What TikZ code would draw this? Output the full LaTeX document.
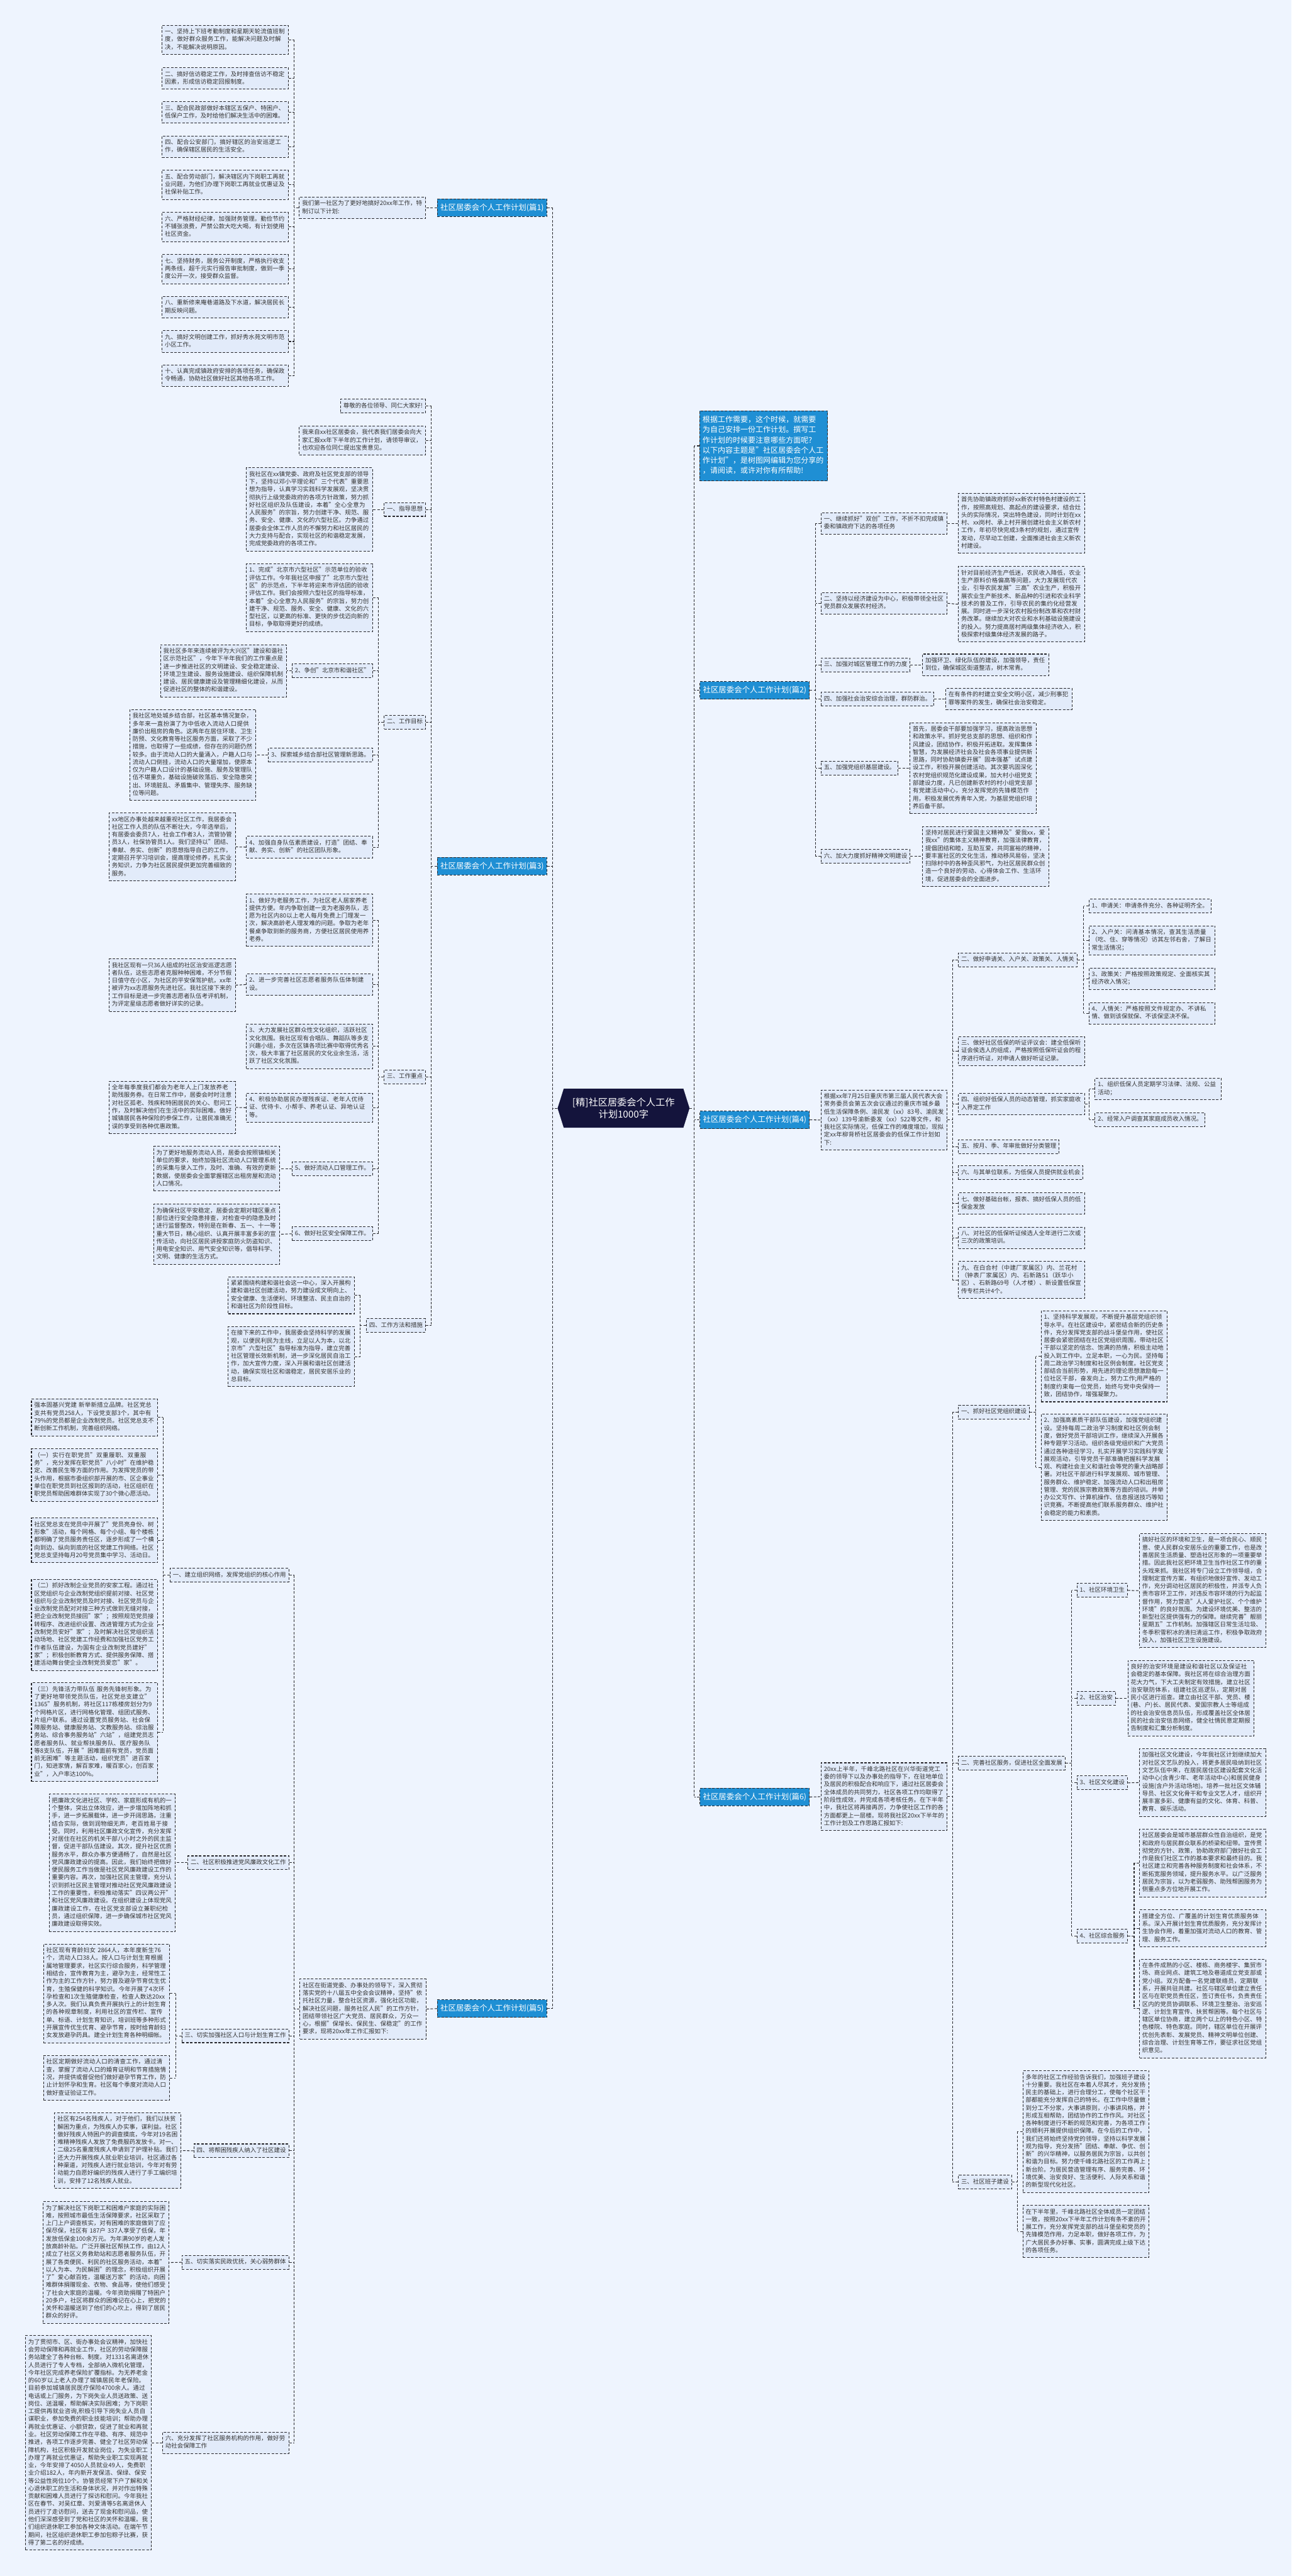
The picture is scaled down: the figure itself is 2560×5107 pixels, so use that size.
\documentclass[tikz,border=0pt]{standalone}
\usepackage{fontspec}
\setmainfont{Noto Sans CJK SC}
\usetikzlibrary{shapes.symbols}
\XeTeXlinebreaklocale "zh"
\XeTeXlinebreakskip=0pt plus 1pt
\definecolor{bgc}{RGB}{238,244,254}
\definecolor{leafc}{RGB}{226,235,250}
\definecolor{linec}{RGB}{40,40,45}
\definecolor{txtc}{RGB}{51,51,51}
\definecolor{bluec}{RGB}{31,143,212}
\definecolor{navyc}{RGB}{20,20,60}
\tikzset{
 dsh/.style={line width=1.3pt, dash pattern=on 5pt off 3pt},
 conn/.style={dsh, draw=linec},
 leaf/.style={dsh, draw=linec, fill=leafc, text=txtc, font=\fontsize{11.8pt}{15.3pt}\selectfont, align=left, inner xsep=5.5pt, inner ysep=6pt, execute at begin node=\strut, execute at end node=\strut},
 lb/.style={leaf, text width=239pt},
 title/.style={dsh, draw=linec, fill=bluec, text=white, font=\fontsize{15.5pt}{18pt}\selectfont, minimum width=217pt, minimum height=35pt, inner sep=3pt},
 introbox/.style={dsh, draw=linec, fill=bluec, text=white, font=\fontsize{15pt}{20.3pt}\selectfont, align=left, text width=242pt, inner xsep=6pt, inner ysep=8.5pt, execute at begin node=\strut, execute at end node=\strut},
 centre/.style={shape=signal, signal to=west and east, signal pointer angle=145, fill=navyc, draw=navyc, text=white, font=\fontsize{19pt}{24pt}\selectfont, align=center, minimum width=261pt, minimum height=77pt, inner sep=2pt}
}
\newcommand\fanL[5]{%
 \coordinate (T) at (#2,0);
 \draw[conn] (#1.west) -- (#1.west -| T);
 \draw[conn] (T |- #3.east) -- (T |- #4.east);
 \foreach \nn in {#5} {\draw[conn] (\nn.east) -- (\nn.east -| T);}
}
\newcommand\fanR[5]{%
 \coordinate (T) at (#2,0);
 \draw[conn] (#1.east) -- (#1.east -| T);
 \draw[conn] (T |- #3.west) -- (T |- #4.west);
 \foreach \nn in {#5} {\draw[conn] (\nn.west) -- (\nn.west -| T);}
}
\begin{document}
\begin{tikzpicture}[x=1pt,y=-1pt]
\fill[bgc] (0,0) rectangle (2560,5107);
\useasboundingbox (0,0) rectangle (2560,5107);

% centre
\node[centre] (C) at (1236,2197) {[精]社区居委会个人工作\\计划1000字};

% ================= 篇1 =================
\node[title] (P1) at (975.5,412) {社区居委会个人工作计划(篇1)};
\node[lb, anchor=east] (a0) at (844,412) {我们第一社区为了更好地搞好20xx年工作，特制订以下计划:};
\node[lb, anchor=east] (a1) at (572,79) {一、坚持上下班考勤制度和星期天轮流值班制度，做好群众服务工作，能解决问题及时解决，不能解决说明原因。};
\node[lb, anchor=east] (a2) at (572,155.5) {二、搞好信访稳定工作，及时排查信访不稳定因素，形成信访稳定回报制度。};
\node[lb, anchor=east] (a3) at (572,223) {三、配合民政部做好本辖区五保户、特困户、低保户工作，及时给他们解决生活中的困难。};
\node[lb, anchor=east] (a4) at (572,291) {四、配合公安部门，搞好辖区的治安巡逻工作，确保辖区居民的生活安全。};
\node[lb, anchor=east] (a5) at (572,366.5) {五、配合劳动部门，解决辖区内下岗职工再就业问题，为他们办理下岗职工再就业优惠证及社保补贴工作。};
\node[lb, anchor=east] (a6) at (572,450) {六、严格财经纪律，加强财务管理。勤俭节约不铺张浪费，严禁公款大吃大喝，有计划使用社区资金。};
\node[lb, anchor=east] (a7) at (572,533.5) {七、坚持财务，居务公开制度，严格执行收支两条线，超千元实行报告审批制度，做到一季度公开一次，接受群众监督。};
\node[lb, anchor=east] (a8) at (572,609) {八、重新修来庵巷道路及下水道，解决居民长期反映问题。};
\node[lb, anchor=east] (a9) at (572,677) {九、搞好文明创建工作，抓好秀水苑文明市范小区工作。};
\node[lb, anchor=east] (a10) at (572,744.5) {十、认真完成镇政府安排的各项任务，确保政令畅通，协助社区做好社区其他各项工作。};

% ================= 篇3 =================
\node[title] (P3) at (975.5,1717) {社区居委会个人工作计划(篇3)};
\node[leaf, anchor=east] (b0a) at (844,805) {尊敬的各位领导、同仁大家好!};
\node[lb, anchor=east] (b0b) at (844,873.5) {我来自xx社区居委会，我代表我们居委会向大家汇报xx年下半年的工作计划，请领导审议，也欢迎各位同仁提出宝贵意见。};
\node[leaf, anchor=east] (b1) at (844,1010) {一、指导思想};
\node[lb, anchor=east] (b1c) at (739,1010) {我社区在xx镇党委、政府及社区党支部的领导下，坚持以邓小平理论和"三个代表"重要思想为指导，认真学习实践科学发展观，坚决贯彻执行上级党委政府的各项方针政策，努力抓好社区组织及队伍建设，本着"全心全意为人民服务"的宗旨，努力创建干净、规范、服务、安全、健康、文化的六型社区。力争通过居委会全体工作人员的不懈努力和社区居民的大力支持与配合，实现社区的和谐稳定发展，完成党委政府的各项工作。};
\node[leaf, anchor=east] (b2) at (844,1432) {二、工作目标};
\node[lb, anchor=east] (b2a) at (739,1185) {1、完成"北京市六型社区"示范单位的验收评估工作。今年我社区申报了"北京市六型社区"的示范点，下半年将迎来市评估团的验收评估工作。我们会按照六型社区的指导标准，本着"全心全意为人民服务"的宗旨，努力创建干净、规范、服务、安全、健康、文化的六型社区，以更高的标准、更快的步伐迈向新的目标，争取取得更好的成绩。};
\node[leaf, anchor=east] (b2b) at (739,1330) {2、争创"北京市和谐社区"};
\node[lb, anchor=east] (b2bc) at (569,1330) {我社区多年来连续被评为大兴区"建设和谐社区示范社区"，今年下半年我们的工作重点是进一步推进社区的文明建设、安全稳定建设、环境卫生建设、服务设施建设、组织保障机制建设、居民健康建设及管理精细化建设，从而促进社区的整体的和谐建设。};
\node[leaf, anchor=east] (b2c) at (739,1497) {3、探索城乡结合部社区管理新思路。};
\node[lb, anchor=east] (b2cc) at (508,1497) {我社区地处城乡结合部，社区基本情况复杂，多年来一直扮演了为中低收入流动人口提供廉价出租房的角色。这两年在居住环境、卫生防预、文化教育等社区服务方面，采取了不少措施，也取得了一些成绩，但存在的问题仍然较多。由于流动人口的大量涌入，户籍人口与流动人口倒挂，流动人口的大量增加，使原本仅为户籍人口设计的基础设施、服务及管理队伍不堪重负，基础设施破败落后、安全隐患突出、环境脏乱、矛盾集中、管理失序、服务缺位等问题。};
\node[lb, anchor=east] (b2d) at (739,1679.5) {4、加强自身队伍素质建设，打造"团结、奉献、务实、创新"的社区团队形象。};
\node[lb, anchor=east] (b2dc) at (467,1679) {xx地区办事处越来越重视社区工作，我居委会社区工作人员的队伍不断壮大，今年选举后，有居委会委员7人，社会工作者3人，流管协管员3人，社保协管员1人。我们坚持以"团结、奉献、务实、创新"的思想指导自己的工作，定期召开学习培训会，提高理论修养，扎实业务知识，力争为社区居民提供更加完善细致的服务。};
\node[leaf, anchor=east] (b3) at (844,2135) {三、工作重点};
\node[lb, anchor=east] (b3a) at (739,1824.5) {1、做好为老服务工作，为社区老人居家养老提供方便。年内争取创建一支为老服务队，志愿为社区内80以上老人每月免费上门理发一次，解决高龄老人理发难的问题。争取为老年餐桌争取到新的服务商，方便社区居民使用养老券。};
\node[lb, anchor=east] (b3b) at (739,1952) {2、进一步完善社区志愿者服务队伍体制建设。};
\node[lb, anchor=east] (b3bc) at (467,1953) {我社区现有一只36人组成的社区治安巡逻志愿者队伍，这些志愿者克服种种困难，不分节假日值守在小区，为社区的平安保驾护航，xx年被评为xx志愿服务先进社区。我社区接下来的工作目标是进一步完善志愿者队伍考评机制，为评定星级志愿者做好详实的记录。};
\node[lb, anchor=east] (b3c) at (739,2074.5) {3、大力发展社区群众性文化组织，活跃社区文化氛围。我社区现有合唱队、舞蹈队等多支兴趣小组，多次在区镇各项比赛中取得优秀名次，极大丰富了社区居民的文化业余生活，活跃了社区文化氛围。};
\node[lb, anchor=east] (b3d) at (739,2196) {4、积极协助居民办理残疾证、老年人优待证、优待卡、小帮手、养老认证、异地认证等。};
\node[lb, anchor=east] (b3dc) at (467,2195.5) {全年每季度我们都会为老年人上门发放养老助残服务券。在日常工作中，居委会时时注意对社区孤老、残疾和特困居民的关心、慰问工作，及时解决他们在生活中的实际困难。做好城镇居民各种保险的参保工作，让居民准确无误的享受到各种优惠政策。};
\node[leaf, anchor=east] (b3e) at (739,2317) {5、做好流动人口管理工作。};
\node[lb, anchor=east] (b3ec) at (555,2317) {为了更好地服务流动人员，居委会按照镇相关单位的要求，始终加强社区流动人口管理系统的采集与录入工作，及时、准确、有效的更新数据，使居委会全面掌握辖区出租房屋和流动人口情况。};
\node[leaf, anchor=east] (b3f) at (739,2446) {6、做好社区安全保障工作。};
\node[lb, anchor=east] (b3fc) at (555,2447) {为确保社区平安稳定，居委会定期对辖区重点部位进行安全隐患排查，对检查中的隐患及时进行监督整改，特别是在新春、五一、十一等重大节日，精心组织、认真开展丰富多彩的宣传活动，向社区居民讲授家庭防火防盗知识、用电安全知识、用气安全知识等，倡导科学、文明、健康的生活方式。};
\node[leaf, anchor=east] (b4) at (844,2628) {四、工作方法和措施};
\node[lb, anchor=east] (b4a) at (703,2568) {紧紧围绕构建和谐社会这一中心，深入开展构建和谐社区创建活动，努力建设成文明向上、安全健康、生活便利、环境整洁、民主自治的和谐社区为阶段性目标。};
\node[lb, anchor=east] (b4b) at (703,2689.5) {在接下来的工作中，我居委会坚持科学的发展观，以便民利民为主线，立足以人为本，以北京市"六型社区"指导标准为指导，建立完善社区管理长效新机制，进一步深化居民自治工作，加大宣传力度，深入开展和谐社区创建活动，确保实现社区和谐稳定，居民安居乐业的总目标。};

% ================= 篇5 =================
\node[title] (P5) at (975.5,3982) {社区居委会个人工作计划(篇5)};
\node[lb, anchor=east] (c0) at (845,3983) {社区在街道党委、办事处的领导下，深入贯彻落实党的十八届五中全会会议精神，坚持"依托社区力量，整合社区资源，强化社区功能，解决社区问题，服务社区人民"的工作方针，团结带领社区广大党员、居民群众，万众一心，根据"保增长、保民生、保稳定"的工作要求，现将20xx年工作汇报如下:};
\node[leaf, anchor=east] (c1) at (573,3123) {一、建立组织网络，发挥党组织的核心作用};
\node[lb, anchor=east] (c1a) at (313,2810) {强本固基兴党建 新举新措立品牌。社区党总支共有党员258人，下设党支部3个，其中有79\%的党员都是企业改制党员。社区党总支不断创新工作机制，完善组织网络。};
\node[lb, anchor=east] (c1b) at (313,2924.5) {（一）实行在职党员"双重履职、双重服务"，充分发挥在职党员"八小时"在维护稳定、改善民生等方面的作用。为发挥党员的带头作用，根据市委组织部开展的市、区企事业单位在职党员到社区报到的活动，社区组织在职党员帮助困难群体实现了30个微心愿活动。};
\node[lb, anchor=east] (c1c) at (313,3054) {社区党总支在党员中开展了"党员亮身份、树形象"活动，每个网格、每个小组、每个楼栋都明确了党员服务责任区，逐步形成了一个横向到边、纵向到底的社区党建工作网络。社区党总支坚持每月20号党员集中学习、活动日。};
\node[lb, anchor=east] (c1d) at (313,3221.5) {（二）抓好改制企业党员的安家工程。通过社区党组织与企业改制党组织提前对接、社区党组织与企业改制党员及时对接、社区党员与企业改制党员配对对接三种方式做到无缝对接，把企业改制党员接回"家"；按照规范党员接转程序、改进组织设置、改进管理方式为企业改制党员安好"家"；及时解决社区党组织活动场地、社区党建工作经费和加强社区党务工作者队伍建设，为国有企业改制党员建好"家"；积极创新教育方式、提供服务保障、搭建活动舞台使企业改制党员爱恋"家"。};
\node[lb, anchor=east] (c1e) at (313,3434) {（三）先锋活力带队伍 服务先锋树形象。为了更好地带领党员队伍，社区党总支建立"1365"服务机制，将社区117栋楼房划分为9个网格片区，进行网格化管理、组团式服务、片组户联系。通过设置党员服务站、社会保障服务站、健康服务站、文教服务站、综治服务站、综合事务服务站"六站"，组建党员志愿者服务队、就业帮扶服务队、医疗服务队等8支队伍，开展 "困难面前有党员，党员面前无困难"等主题活动，组织党员"进百家门，知进家情，解百家难，暖百家心，创百家业"，入户率达100\%。};
\node[leaf, anchor=east] (c2) at (573,3693) {二、社区积极推进党风廉政文化工作};
\node[lb, anchor=east] (c2c) at (348,3693) {把廉政文化进社区、学校、家庭形成有机的一个整体，突出立体效应，进一步增加阵地和抓手，进一步拓展载体，进一步开阔思路，注重结合实际，做到润物细无声，老百姓易于接受。同时，利用社区廉政文化宣传，充分发挥对居住在社区的机关干部八小时之外的民主监督，促进干部队伍建设。其次，提升社区优质服务水平，群众办事方便通畅了，自然是社区党风廉政建设的提高。因此，我们始终把做好便民服务工作当做是社区党风廉政建设工作的重要内容。再次，加强社区民主管理，充分认识到抓社区民主管理对推动社区党风廉政建设工作的重要性，积极推动落实"四议两公开"和社区党风廉政建设。在组织建设上体现党风廉政建设工作，在社区党支部设立兼职纪检员，通过组织保障，进一步确保城市社区党风廉政建设取得实效。};
\node[leaf, anchor=east] (c3) at (573,4036) {三、切实加强社区人口与计划生育工作};
\node[lb, anchor=east] (c3a) at (337,3952) {社区现有育龄妇女 2864人，本年度新生76个，流动人口38人。按人口与计划生育根据属地管理要求，社区实行综合服务，科学管理相结合，宣传教育为主，避孕为主，经常性工作为主的工作方针，努力普及避孕节育优生优育，生殖保健的科学知识。今年开展了4次环孕检查和1次生殖健康检查，检查人数达20xx多人次。我们认真负责开展执行上的计划生育的各种规章制度，利用社区的宣传栏、宣传单、标语、计划生育知识，培训班等多种形式开展宣传优生优育、避孕节育，按时给育龄妇女发放避孕药具。建全计划生育各种明细帐。};
\node[lb, anchor=east] (c3b) at (337,4119.5) {社区定期做好流动人口的清查工作，通过清查，掌握了流动人口的婚育证明和节育措施情况，并提供或督促他们做好避孕节育工作，防止计划怀孕和生育。社区每个季度对流动人口做好查证验证工作。};
\node[leaf, anchor=east] (c4) at (573,4264) {四、将帮困残疾人纳入了社区建设};
\node[lb, anchor=east] (c4c) at (359,4263.5) {社区有254名残疾人，对于他们，我们以扶贫解困为重点，为残疾人办实事，谋利益。社区做好残疾人特困户的调查摸底，今年对19名困难精神残疾人发放了免费服药发放卡。对一、二级25名重度残疾人申请到了护理补贴。我们还大力开展残疾人就业职业培训，社区通过各种渠道，对残疾人进行就业培训，今年对有劳动能力自愿好编织的残疾人进行了手工编织培训，安排了12名残疾人就业。};
\node[leaf, anchor=east] (c5) at (573,4485) {五、切实落实民政优抚，关心弱势群体};
\node[lb, anchor=east] (c5c) at (336,4485.5) {为了解决社区下岗职工和困难户家庭的实际困难，按照城市最低生活保障要求，社区采取了上门上户调查核实，对有困难的家庭做到了应保尽保，社区有 187户 337人享受了低保，年发放低保金100余万元。为年满90岁的老人发放高龄补贴。广泛开展社区帮扶工作，由12人成立了社区义务救助站和志愿者服务队伍，开展了各类便民、利民的社区服务活动，本着"以人为本、为民解困"的理念，积极组织开展了"爱心献百姓，温暖送万家"的活动，向困难群体捐赠现金、衣物、食品等，使他们感受了社会大家庭的温暖。今年资助捐赠了特困户20多户，社区将群众的困难记在心上，把党的关怀和温暖送到了他们的心坎上，得到了居民群众的好评。};
\node[lb, anchor=east] (c6) at (573,4843) {六、充分发挥了社区服务机构的作用，做好劳动社会保障工作};
\node[lb, anchor=east] (c6c) at (301,4843) {为了贯彻市、区、街办事处会议精神，加快社会劳动保障和再就业工作，社区的劳动保障服务站建全了各种台帐、制度。对1331名离退休人员进行了专人专档，全部纳入微机化管理，今年社区完成养老保险扩覆指标。为无养老金的60岁以上老人办理了城镇居民年老保险。目前参加城镇居民医疗保险4700余人。通过电话或上门服务，为下岗失业人员送政策、送岗位、送温暖，帮助解决实际困难；为下岗职工提供再就业咨询,积极引导下岗失业人员自谋职业，参加免费的职业技能培训；帮助办理再就业优惠证、小额贷款，促进了就业和再就业。社区劳动保障工作在平稳、有序、规范中推进，各项工作逐步完善、健全了社区劳动保障机构，社区积极开发就业岗位，为失业职工办理了再就业优惠证，帮助失业职工实现再就业，今年安排了4050人员就业49人，免费职业介绍182人，年内新开发保洁、保绿、保安等公益性岗位10个。协管员经常下户了解和关心退休职工的生活和身体状况，并对作出特殊贡献和困难人员进行了探访和慰问。今年我社区在春节、对吴红章、刘爱清等5名离退休人员进行了走访慰问，送去了现金和慰问品，使他们深深感受到了党和社区的关怀和温暖。我们组织退休职工参加各种文体活动。在端午节期间，社区组织退休职工参加包粽子比赛，获得了第二名的好成绩。};

% ================= right: intro =================
\node[introbox, anchor=west] (R0) at (1386,884) {根据工作需要，这个时候，就需要\\为自己安排一份工作计划。撰写工\\作计划的时候要注意哪些方面呢?\\以下内容主题是"社区居委会个人工\\作计划"，是树图网编辑为您分享的\\，请阅读，或许对你有所帮助!};

% ================= 篇2 =================
\node[title] (P2) at (1496,1368.5) {社区居委会个人工作计划(篇2)};
\node[lb, anchor=west] (d1) at (1627,1037.5) {一、继续抓好"双创"工作，不折不扣完成镇委和镇政府下达的各项任务};
\node[lb, anchor=west] (d1c) at (1899,1037.5) {首先协助镇政府抓好xx新农村特色村建设的工作，按照高规划、高起点的建设要求，结合灶头的实际情况，突出特色建设，同时计划在xx村、xx岗村、承上村开展创建社会主义新农村工作，年初尽快完成3条村的规划，通过宣传发动，尽早动工创建，全面推进社会主义新农村建设。};
\node[lb, anchor=west] (d2) at (1627,1196) {二、坚持以经济建设为中心，积极带领全社区党员群众发展农村经济。};
\node[lb, anchor=west] (d2c) at (1899,1198) {针对目前经济生产低迷，农民收入降低，农业生产原料价格偏高等问题，大力发展现代农业，引导农民发展"三高"农业生产，积极开展农业生产新技术、新品种的引进和农业科学技术的普及工作，引导农民的集约化经营发展。同时进一步深化农村股份制改革和农村财务改革。继续加大对农业和水利基础设施建设的投入。努力提高居村两级集体经济收入，积极探索村级集体经济发展的路子。};
\node[leaf, anchor=west] (d3) at (1627,1318) {三、加强对城区管理工作的力度};
\node[lb, anchor=west] (d3c) at (1828,1318) {加强环卫、绿化队伍的建设，加强领导，责任到位，确保城区街道整洁，树木常青。};
\node[leaf, anchor=west] (d4) at (1627,1386) {四、加强社会治安综合治理，群防群治。};
\node[lb, anchor=west] (d4c) at (1874,1386) {在有条件的村建立安全文明小区，减少刑事犯罪等案件的发生，确保社会治安稳定。};
\node[leaf, anchor=west] (d5) at (1627,1523) {五、加强党组织基层建设。};
\node[lb, anchor=west] (d5c) at (1803,1523) {首先，居委会干部要加强学习，提高政治思想和政策水平。抓好党总支部的思想、组织和作风建设，团结协作，积极开拓进取。发挥集体智慧，为发展经济社会及社会各项事业提供新思路，同时协助镇委开展"固本强基"试点建设工作，积极开展创建活动。其次要巩固深化农村党组织规范化建设成果，加大村小组党支部建设力度，凡已创建新农村的村小组党支部有党建活动中心，充分发挥党的先锋模范作用，积极发展优秀青年入党，为基层党组织培养后备干部。};
\node[leaf, anchor=west] (d6) at (1627,1698) {六、加大力度抓好精神文明建设};
\node[lb, anchor=west] (d6c) at (1828,1698) {坚持对居民进行爱国主义精神及"爱我xx，爱我xx"的集体主义精神教育，加强法律教育，提倡团结和睦，互助互爱，共同富裕的精神，要丰富社区的文化生活，推动移风易俗，坚决扫除村中的各种歪风邪气，为社区居民群众创造一个良好的劳动、心得体会工作、生活环境，促进居委会的全面进步。};

% ================= 篇4 =================
\node[title] (P4) at (1496,2220) {社区居委会个人工作计划(篇4)};
\node[lb, anchor=west] (e0) at (1627,2220.5) {根据xx年7月25日重庆市第三届人民代表大会常务委员会第五次会议通过的重庆市城乡最低生活保障条例、渝民发（xx）83号、渝民发（xx）139号渝新委发（xx）522等文件，和我社区实际情况，低保工作的难度增加，现拟定xx年柳背桥社区居委会的低保工作计划如下:};
\node[leaf, anchor=west] (e2) at (1899,1903) {二、做好申请关、入户关、政策关、人情关};
\node[leaf, anchor=west] (e2a) at (2158,1796.5) {1、申请关：申请条件充分、各种证明齐全。};
\node[lb, anchor=west] (e2b) at (2158,1864.5) {2、入户关：问清基本情况，查其生活质量（吃、住、穿等情况）访其左邻右舍，了解日常生活情况；};
\node[lb, anchor=west] (e2c) at (2158,1940.5) {3、政策关：严格按照政策规定、全面核实其经济收入情况；};
\node[lb, anchor=west] (e2d) at (2158,2009) {4、人情关：严格按照文件规定办、不讲私情、做到该保就保、不该保坚决不保。};
\node[lb, anchor=west] (e3) at (1899,2084) {三、做好社区低保的听证评议会：建全低保听证会侯选人的组成，严格按照低保听证会的程序进行听证，对申请人做好听证记录。};
\node[lb, anchor=west] (e4) at (1899,2189) {四、组织好低保人员的动态管理，抓实家庭收入界定工作};
\node[lb, anchor=west] (e4a) at (2170,2159) {1、组织低保人员定期学习法律、法规、公益活动；};
\node[leaf, anchor=west] (e4b) at (2170,2219.5) {2、经常入户调查其家庭成员收入情况。};
\node[leaf, anchor=west] (e5) at (1899,2273.5) {五、按月、季、年审批做好分类管理};
\node[leaf, anchor=west] (e6) at (1899,2325) {六、与其单位联系，为低保人员提供就业机会};
\node[lb, anchor=west] (e7) at (1899,2386) {七、做好基础台帐，报表、搞好低保人员的低保金发放};
\node[lb, anchor=west] (e8) at (1899,2454) {八、对社区的低保听证候选人全年进行二次或三次的政策培训。};
\node[lb, anchor=west] (e9) at (1899,2537.5) {九、在白合村（中建厂家属区）内、兰花村（钟表厂家属区）内、石新路51（跃华小区）、石新路69号（人才楼）、新设置低保宣传专栏共计4个。};

% ================= 篇6 =================
\node[title] (P6) at (1496,3562.5) {社区居委会个人工作计划(篇6)};
\node[lb, anchor=west] (f0) at (1627,3562) {20xx上半年，千峰北路社区在兴华街道党工委的领导下以及办事处的指导下，在驻地单位及居民的积极配合和响应下，通过社区居委会全体成员的共同努力，社区各项工作均取得了阶段性成效，并完成各项考核任务。在下半年中，我社区将再接再厉，力争使社区工作的各方面都更上一层楼。现将我社区20xx下半年的工作计划及工作思路汇报如下:};
\node[leaf, anchor=west] (f1) at (1899,2799.5) {一、抓好社区党组织建设};
\node[lb, anchor=west] (f1a) at (2063,2689) {1、坚持科学发展观，不断提升基层党组织领导水平。在社区建设中，紧密结合新的历史条件，充分发挥党支部的战斗堡垒作用，使社区居委会紧密团结在社区党组织周围，带动社区干部以坚定的信念、饱满的热情，积极主动地投入到工作中。立足本职，一心为民。坚持每周二政治学习制度和社区例会制度。社区党支部结合当前形势，用先进的理论思想激励每一位社区干部，奋发向上，努力工作;用严格的制度约束每一位党员，始终与党中央保持一致，团结协作，增强凝聚力。};
\node[lb, anchor=west] (f1b) at (2063,2909) {2、加强高素质干部队伍建设，加强党组织建设。坚持每周二政治学习制度和社区例会制度，做好党员干部培训工作，继续深入开展各种专题学习活动。组织各级党组织和广大党员通过各种途径学习，扎实开展学习实践科学发展观活动，引导党员干部准确把握科学发展观、构建社会主义和谐社会等党的重大战略部署。对社区干部进行科学发展观、城市管理、服务群众、维护稳定、加强流动人口和出租房管理、党的民族宗教政策等方面的培训。并举办公文写作、计算机操作、信息报送技巧等知识竞赛。不断提高他们联系服务群众、维护社会稳定的能力和素质。};
\node[leaf, anchor=west] (f2) at (1899,3495.5) {二、完善社区服务，促进社区全面发展};
\node[leaf, anchor=west] (f2a) at (2134,3153) {1、社区环境卫生};
\node[lb, anchor=west] (f2ac) at (2258,3153.5) {搞好社区的环境和卫生，是一项合民心、顺民意、使人民群众安居乐业的重要工作，也是改善居民生活质量、塑造社区形象的一项重要举措。因此我社区把环境卫生当作社区工作的重头戏来抓。我社区将专门设立工作领导组，合理制定宣传方案，有组织地做好宣传、发动工作，充分调动社区居民的积极性，并派专人负责市容环卫工作，对违反市容环境的行为起监督作用，努力营造"人人爱护社区、个个维护环境"的良好氛围。为建设环境优美、整洁的新型社区提供强有力的保障。继续完善"靓丽星期五"工作机制。加强辖区日常生活垃圾、冬季积雪积冰的清扫清运工作，积极争取政府投入，加强社区卫生设施建设。};
\node[leaf, anchor=west] (f2b) at (2134,3366.5) {2、社区治安};
\node[lb, anchor=west] (f2bc) at (2235,3366.5) {良好的治安环境是建设和谐社区以及保证社会稳定的基本保障。我社区将在综合治理方面花大力气，下大工夫制定有效措施，建立社区治安联防体系，组建社区巡逻队，定期对居民小区进行巡查。建立由社区干部、党员、楼(巷、户)长、居民代表、爱国宗教人士等组成的社会治安信息员队伍，形成覆盖社区全体居民的社会治安信息网络，健全社情民意定期报告制度和汇集分析制度。};
\node[leaf, anchor=west] (f2c) at (2134,3534.5) {3、社区文化建设};
\node[lb, anchor=west] (f2cc) at (2258,3534) {加强社区文化建设，今年我社区计划继续加大对社区文艺队的投入，将更多居民吸纳到社区文艺队伍中来，在居民居住区建设配套文化活动中心(含青少年、老年活动中心)和居民健身设施(含户外活动场地)。培养一批社区文体辅导员、社区文化骨干和专业文艺人才，组织开展丰富多彩、健康有益的文化、体育、科普、教育、娱乐活动。};
\node[leaf, anchor=west] (f2d) at (2134,3838.5) {4、社区综合服务};
\node[lb, anchor=west] (f2d1) at (2258,3693.5) {社区居委会是城市基层群众性自治组织，是党和政府与居民群众联系的桥梁和纽带。宣传贯彻党的方针、政策，协助政府部门做好社会工作是我们社区工作的基本要求和最终目的。我社区建立和完善各种服务制度和社会体系，不断拓宽服务领域，提升服务水平。以广泛服务居民为宗旨，以为老弱服务、助残帮困服务为侧重点多方位地开展工作。};
\node[lb, anchor=west] (f2d2) at (2258,3823) {搭建全方位、广覆盖的计划生育优质服务体系。深入开展计划生育优质服务，充分发挥计生协会作用，着重加强对流动人口的教育、管理、服务工作。};
\node[lb, anchor=west] (f2d3) at (2258,3982) {在条件成熟的小区、楼栋、商务楼宇、集贸市场、商业网点、建筑工地及巷道成立党支部或党小组。双方配备一名党建联络员，定期联系，开展共驻共建。社区与辖区单位建立责任区与在职党员责任区，签订责任书，负责责任区内的党员协调联系、环境卫生整治、治安巡逻、计划生育宣传、扶贫帮困等。每个社区与辖区单位协商，建立两个以上的特色小区、特色楼院、特色家庭。同时，辖区单位在开展评优创先表彰、发展党员、精神文明单位创建、综合治理、计划生育等工作，要征求社区党组织意见。};
\node[leaf, anchor=west] (f3) at (1899,4326) {三、社区班子建设};
\node[lb, anchor=west] (f3a) at (2027,4226) {多年的社区工作经验告诉我们，加强班子建设十分重要。我社区在本着人尽其才，充分发扬民主的基础上，进行合理分工，使每个社区干部都能充分发挥自己的特长。在工作中尽量做到分工不分家，大事讲原则，小事讲风格，并形成互相帮助，团结协作的工作作风。对社区各种制度进行不断的规范和完善，为各项工作的顺利开展提供组织保障。在今后的工作中，我们还将始终坚持党的领导，坚持以科学发展观为指导，充分发扬"团结、奉献、争优、创新"的兴华精神，以服务居民为宗旨，以共创和谐为目标。努力使千峰北路社区的工作再上新台阶。为居民营造管理有序、服务完善、环境优美、治安良好、生活便利、人际关系和谐的新型现代化社区。};
\node[lb, anchor=west] (f3b) at (2027,4424) {在下半年里，千峰北路社区全体成员一定团结一致，按照20xx下半年工作计划有条不紊的开展工作，充分发挥党支部的战斗堡垒和党员的先锋模范作用，力足本职，做好各项工作，为广大居民多办好事、实事，圆满完成上级下达的各项任务。};

% ================= connectors =================
% main trunks
\fanL{C}{1095}{P1}{P5}{P1,P3,P5}
\fanR{C}{1376}{R0}{P6}{R0,P2,P4,P6}
% 篇1
\draw[conn] (P1.west) -- (a0.east);
\fanL{a0}{583}{a1}{a10}{a1,a2,a3,a4,a5,a6,a7,a8,a9,a10}
% 篇3
\fanL{P3}{855}{b0a}{b4}{b0a,b0b,b1,b2,b3,b4}
\draw[conn] (b1.west) -- (b1c.east);
\fanL{b2}{750}{b2a}{b2d}{b2a,b2b,b2c,b2d}
\draw[conn] (b2b.west) -- (b2bc.east);
\draw[conn] (b2c.west) -- (b2cc.east);
\draw[conn] (b2d.west) -- (b2dc.east);
\fanL{b3}{750}{b3a}{b3f}{b3a,b3b,b3c,b3d,b3e,b3f}
\draw[conn] (b3b.west) -- (b3bc.east);
\draw[conn] (b3d.west) -- (b3dc.east);
\draw[conn] (b3e.west) -- (b3ec.east);
\draw[conn] (b3f.west) -- (b3fc.east);
\fanL{b4}{714}{b4a}{b4b}{b4a,b4b}
% 篇5
\draw[conn] (P5.west) -- (c0.east);
\fanL{c0}{583}{c1}{c6}{c1,c2,c3,c4,c5,c6}
\fanL{c1}{323}{c1a}{c1e}{c1a,c1b,c1c,c1d,c1e}
\draw[conn] (c2.west) -- (c2c.east);
\fanL{c3}{348}{c3a}{c3b}{c3a,c3b}
\draw[conn] (c4.west) -- (c4c.east);
\draw[conn] (c5.west) -- (c5c.east);
\draw[conn] (c6.west) -- (c6c.east);
% 篇2
\fanR{P2}{1617}{d1}{d6}{d1,d2,d3,d4,d5,d6}
\draw[conn] (d1.east) -- (d1c.west);
\draw[conn] (d2.east) -- (d2c.west);
\draw[conn] (d3.east) -- (d3c.west);
\draw[conn] (d4.east) -- (d4c.west);
\draw[conn] (d5.east) -- (d5c.west);
\draw[conn] (d6.east) -- (d6c.west);
% 篇4
\draw[conn] (P4.east) -- (e0.west);
\fanR{e0}{1888}{e2}{e9}{e2,e3,e4,e5,e6,e7,e8,e9}
\fanR{e2}{2148}{e2a}{e2d}{e2a,e2b,e2c,e2d}
\fanR{e4}{2159}{e4a}{e4b}{e4a,e4b}
% 篇6
\draw[conn] (P6.east) -- (f0.west);
\fanR{f0}{1888}{f1}{f3}{f1,f2,f3}
\fanR{f1}{2053}{f1a}{f1b}{f1a,f1b}
\fanR{f2}{2124}{f2a}{f2d}{f2a,f2b,f2c,f2d}
\draw[conn] (f2a.east) -- (f2ac.west);
\draw[conn] (f2b.east) -- (f2bc.west);
\draw[conn] (f2c.east) -- (f2cc.west);
\fanR{f2d}{2248}{f2d1}{f2d3}{f2d1,f2d2,f2d3}
\fanR{f3}{2017}{f3a}{f3b}{f3a,f3b}
\end{tikzpicture}
\end{document}
